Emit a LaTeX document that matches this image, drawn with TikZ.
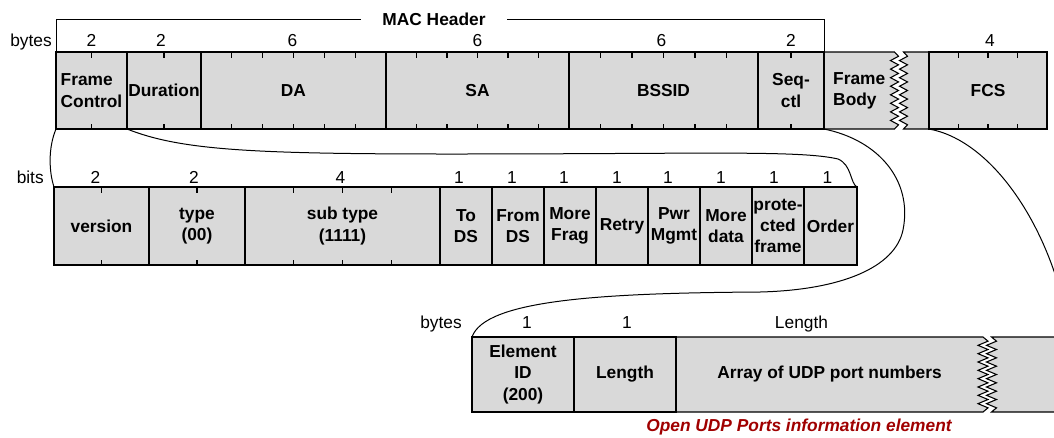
\documentclass[tikz,border=0pt]{standalone}
\usepackage{fontspec}
\setmainfont{Liberation Sans}
\usetikzlibrary{calc}
\definecolor{fieldgray}{RGB}{217,217,217}
\definecolor{capred}{RGB}{160,0,0}
\begin{document}
\begin{tikzpicture}[x=0.75pt, y=-0.75pt,
  fbox/.style={draw=black, fill=fieldgray, line width=0.8pt, inner sep=0pt, outer sep=0pt,
    font=\fontsize{13pt}{16pt}\selectfont\bfseries, align=center},
  ftext/.style={inner sep=0pt, outer sep=0pt, font=\fontsize{13pt}{16pt}\selectfont\bfseries, align=center},
  cell/.style n args={2}{minimum width=#1*0.75pt, minimum height=#2*0.75pt, anchor=north west},
  zpiece/.style={draw=black, fill=fieldgray, line width=0.8pt},
  lbl/.style={inner sep=0pt, font=\fontsize{13pt}{16pt}\selectfont, anchor=base},
  tmark/.style={line width=0.8pt},
  link/.style={line width=0.75pt},
]
\useasboundingbox (0,0) rectangle (1054,437);
\clip (0,0) rectangle (1054,437);

% ---------- top row (MAC frame) ----------
\filldraw[zpiece] (824,52) -- (894.5,52)
  \foreach \k in {1,...,17} {-- ({894.5+4*(2*mod(\k,2)-1)},{52+\k*77/18})}
  -- (894.5,129) -- (824,129) -- cycle;
\filldraw[zpiece] (903.5,52) -- (1047,52) -- (1047,129) -- (903.5,129)
  \foreach \k in {1,...,17} {-- ({903.5+4*(2*mod(\k,2)-1)},{129-\k*77/18})}
  -- cycle;

\node[fbox, cell={71}{77}, align=left] (fc) at (56,52) {Frame\\Control};
\node[fbox, cell={74}{77}] (dur) at (127,52) {Duration};
\node[fbox, cell={185}{77}] (da) at (201,52) {DA};
\node[fbox, cell={183}{77}] (sa) at (386,52) {SA};
\node[fbox, cell={189}{77}] (bssid) at (569,52) {BSSID};
\node[fbox, cell={66}{77}] (seq) at (758,52) {Seq-\\ctl};
\node[ftext, cell={70.5}{77}, align=left] (fb) at (824,52) {Frame\\Body};
\node[fbox, cell={118}{77}] (fcs) at (929,52) {FCS};

\node[lbl, anchor=base east] (lbytes) at (52,46.5) {bytes};
\foreach \n/\v/\dx in {fc/2/0, dur/2/-3, da/6/-1, sa/6/0, bssid/6/-2, seq/2/0, fcs/4/2}
  \node[lbl] (l\n) at ($(\n.north)+(\dx,-5.5)$) {\v};

\node[inner sep=0pt, inner xsep=16pt, font=\fontsize{13pt}{16pt}\selectfont\bfseries] (mach) at (434,19) {MAC Header};
\draw[link] (fc.north west) |- (mach.west);
\draw[link] (mach.east) -| (seq.north east);

% ---------- bits row (Frame Control) ----------
\node[fbox, cell={95}{78}] (ver) at (54,187) {version};
\node[fbox, cell={96}{78}] (typ) at (149,187) {type\\(00)};
\node[fbox, cell={195}{78}] (sub) at (245,187) {sub type\\(1111)};
\node[fbox, cell={52}{78}] (tods) at (440,187) {To\\DS};
\node[fbox, cell={52}{78}] (fromds) at (492,187) {From\\DS};
\node[fbox, cell={52}{78}] (mfrag) at (544,187) {More\\Frag};
\node[fbox, cell={52}{78}] (retry) at (596,187) {Retry};
\node[fbox, cell={52}{78}] (pwr) at (648,187) {Pwr\\Mgmt};
\node[fbox, cell={52}{78}] (mdata) at (700,187) {More\\data};
\node[fbox, cell={52}{78}] (prot) at (752,187) {prote-\\cted\\frame};
\node[fbox, cell={53}{78}] (order) at (804,187) {Order};

\node[lbl, anchor=base east] (lbits) at (44,183.5) {bits};
\foreach \n/\v/\dx in {ver/2/-6, typ/2/-3, sub/4/-2, tods/1/-7, fromds/1/-6, mfrag/1/-6,
  retry/1/-5, pwr/1/-6, mdata/1/-5, prot/1/-4, order/1/-3}
  \node[lbl] (l\n) at ($(\n.north)+(\dx,-3.5)$) {\v};

% ---------- ticks ----------
\foreach \n/\m in {fc/2,dur/2,da/6,sa/6,bssid/6,seq/2,fcs/4,ver/2,typ/2,sub/4}{
  \pgfmathtruncatemacro\last{\m-1}
  \foreach \i in {1,...,\last}{
    \draw[tmark] ($(\n.north west)!\i/\m!(\n.north east)$) -- ++(0,5.5);
    \draw[tmark] ($(\n.south west)!\i/\m!(\n.south east)$) -- ++(0,-5.5);
  }
}

% ---------- element row ----------
\filldraw[zpiece] (676,337) -- (983,337)
  \foreach \k in {1,...,17} {-- ({983+5*(2*mod(\k,2)-1)},{337+\k*75/18})}
  -- (983,412) -- (676,412) -- cycle;
\filldraw[zpiece] (1070,337) -- (991.5,337)
  \foreach \k in {1,...,17} {-- ({991.5+5*(2*mod(\k,2)-1)},{337+\k*75/18})}
  -- (991.5,412) -- (1070,412);

\node[fbox, cell={102}{75}] (eid) at (472,337) {Element\\ID\\(200)};
\node[fbox, cell={102}{75}] (len) at (574,337) {Length};
\node[ftext, cell={307}{75}] (arr) at (676,337) {Array of UDP port numbers};

\node[lbl, anchor=base east] (lbytes2) at (462,328) {bytes};
\node[lbl] (leid) at ($(eid.north)+(4,-9)$) {1};
\node[lbl] (llen) at ($(len.north)+(2,-9)$) {1};
\node[lbl] (larr) at ($(arr.north)+(-28,-9)$) {Length};

\node[inner sep=0pt, text=capred, font=\fontsize{13pt}{16pt}\selectfont\bfseries\itshape] (cap) at (799,427) {Open UDP Ports information element};

% ---------- connectors ----------
\coordinate (fcsend) at (1065,310);
\draw[link] (fc.south west) .. controls (48,148) and (49,172) .. (ver.north west);
\draw[link] (dur.south west) .. controls (180,150) and (250,154) .. (450,154)
  .. controls (700,154) and (800,150) .. (838,159)
  .. controls (852,165) and (850,183) .. (order.north east);
\draw[link] (fb.south west) .. controls (878,140) and (913,180) .. (903,230)
  .. controls (895,268) and (840,290) .. (760,292)
  .. controls (600,293) and (485,300) .. (eid.north west);
\draw[link] (fcs.south west) .. controls (990,140) and (1045,220) .. (fcsend);
\end{tikzpicture}
\end{document}
